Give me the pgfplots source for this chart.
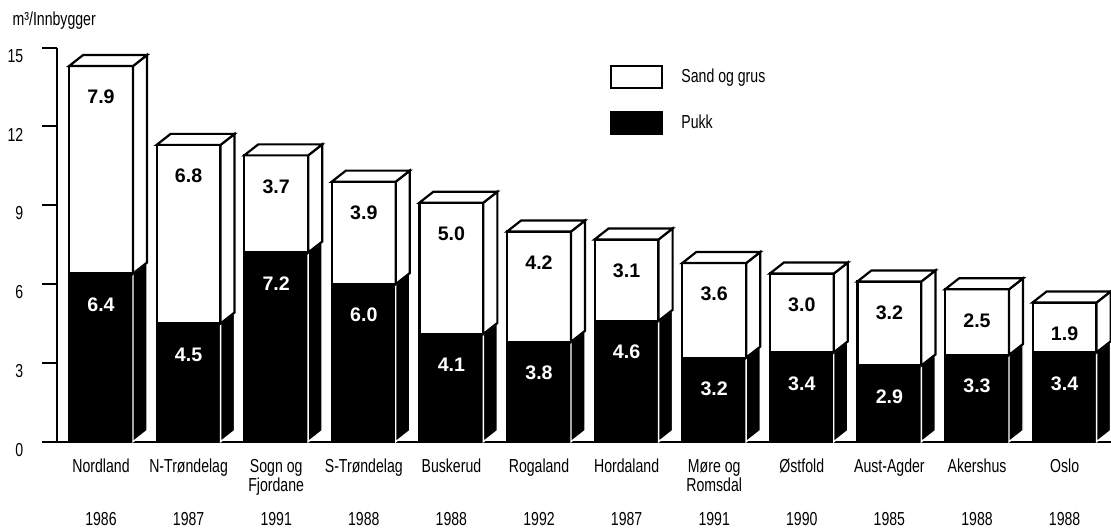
\documentclass[border=0pt]{standalone}
\usepackage{fontspec}
\setmainfont{Liberation Sans}[FakeStretch=0.75]
\newfontfamily\valfont{Liberation Sans}
\usepackage{pgfplots}
\usepackage{pgfplotstable}
\pgfplotsset{compat=1.18}

% m3 per inhabitant, per county
\pgfplotstableread{
x pukk sand
0 6.4 7.9
1 4.5 6.8
2 7.2 3.7
3 6.0 3.9
4 4.1 5.0
5 3.8 4.2
6 4.6 3.1
7 3.2 3.6
8 3.4 3.0
9 2.9 3.2
10 3.3 2.5
11 3.4 1.9
}\datatable

% half bar width, depth offsets (axis units)
\def\bhw{0.365}
\def\bdx{0.16}
\def\bdy{0.419}

\newcommand{\lab}[3]{\strut#1\\\strut#2\\[7.5pt]\strut#3}

\pgfplotsset{
  legbox/.style={legend image code/.code={
    \draw[##1] (0pt,-5.5pt) rectangle (25.5pt,5.5pt);
    \path (34.5pt,0pt);}},
}

\begin{document}
\fontsize{9.4}{9.5}\selectfont
\lineskiplimit=-10pt
\begin{tikzpicture}
\begin{axis}[
  width=527pt, height=197pt, scale only axis,
  xmin=-0.5023, xmax=11.5297,
  ymin=0, ymax=15,
  clip=false,
  axis x line*=bottom, axis y line*=left,
  axis line style={line width=1pt},
  ytick={0,3,...,15},
  tick align=outside,
  major tick length=7.5pt,
  y tick style={line width=1pt, black},
  x tick style={draw=none},
  /pgf/number format/assume math mode=true,
  yticklabel style={yshift=-4pt, xshift=-6pt},
  xtick={0,...,11},
  xticklabels={
    {\lab{Nordland}{}{1986}},
    {\lab{N-Trøndelag}{}{1987}},
    {\lab{Sogn og}{Fjordane}{1991}},
    {\lab{S-Trøndelag}{}{1988}},
    {\lab{Buskerud}{}{1988}},
    {\lab{Rogaland}{}{1992}},
    {\lab{Hordaland}{}{1987}},
    {\lab{Møre og}{Romsdal}{1991}},
    {\lab{Østfold}{}{1990}},
    {\lab{Aust-Agder}{}{1985}},
    {\lab{Akershus}{}{1988}},
    {\lab{Oslo}{}{1988}},
  },
  xticklabel style={align=center, yshift=2pt},
  ylabel={m³/Innbygger},
  every axis y label/.style={at={(rel axis cs:0,1)}, anchor=west,
    xshift=-25.5pt, yshift=13.5pt},
  legend style={at={(0.5247,0.958)}, anchor=north west, draw=none,
    fill=none, inner sep=0pt, row sep=11pt,
    nodes={inner sep=0pt}},
  legend cell align=left,
]
\addlegendimage{legbox, fill=white, draw=black, line width=1pt}
\addlegendentry{Sand og grus}
\addlegendimage{legbox, fill=black, draw=black, line width=1pt}
\addlegendentry{Pukk}

% front faces
\addplot[forget plot, ybar, bar width=0.73, bar shift=0pt,
  fill=white, draw=black, line width=1.1pt]
  table[x=x, y expr=\thisrow{pukk}+\thisrow{sand}]{\datatable};
\addplot[forget plot, ybar, bar width=0.73, bar shift=0pt,
  fill=black, draw=black, line width=1.1pt]
  table[x=x, y=pukk]{\datatable};

% side and top faces
\pgfplotsinvokeforeach{0,...,11}{
  \pgfplotstablegetelem{#1}{pukk}\of\datatable
  \let\pk\pgfplotsretval
  \pgfplotstablegetelem{#1}{sand}\of\datatable
  \let\sd\pgfplotsretval
  \pgfmathsetmacro\tot{\pk+\sd}
  \pgfmathsetmacro\xl{#1-\bhw}
  \pgfmathsetmacro\xr{#1+\bhw}
  \pgfmathsetmacro\xlb{#1-\bhw+\bdx}
  \pgfmathsetmacro\xrb{#1+\bhw+\bdx}
  \pgfmathsetmacro\pkb{\pk+\bdy}
  \pgfmathsetmacro\totb{\tot+\bdy}
  \addplot[forget plot, fill=black, draw=white, line width=0.7pt]
    coordinates {(\xr,0) (\xrb,\bdy) (\xrb,\pkb) (\xr,\pk)} -- cycle;
  \addplot[forget plot, fill=white, draw=black, line width=1.1pt]
    coordinates {(\xr,\pk) (\xrb,\pkb) (\xrb,\totb) (\xr,\tot)} -- cycle;
  \addplot[forget plot, fill=white, draw=black, line width=1.1pt]
    coordinates {(\xl,\tot) (\xlb,\totb) (\xrb,\totb) (\xr,\tot)} -- cycle;
}

% value labels
\addplot[forget plot, draw=none, mark=none, point meta=explicit,
  nodes near coords={\pgfmathprintnumber[fixed,fixed zerofill,precision=1]{\pgfplotspointmeta}},
  every node near coord/.append style={font=\valfont\fontsize{9.8}{10}\selectfont\bfseries,
    text=white, anchor=center, yshift=-15.5pt}]
  table[x=x, y=pukk, meta=pukk]{\datatable};
\addplot[forget plot, draw=none, mark=none, point meta=explicit,
  nodes near coords={\pgfmathprintnumber[fixed,fixed zerofill,precision=1]{\pgfplotspointmeta}},
  every node near coord/.append style={font=\valfont\fontsize{9.8}{10}\selectfont\bfseries,
    text=black, anchor=center, yshift=-15.5pt}]
  table[x=x, y expr=\thisrow{pukk}+\thisrow{sand}, meta=sand]{\datatable};
\end{axis}
\pgfresetboundingbox
\path[use as bounding box] (-28.5pt,-43.15pt) rectangle (527pt,220.85pt);
\end{tikzpicture}
\end{document}
